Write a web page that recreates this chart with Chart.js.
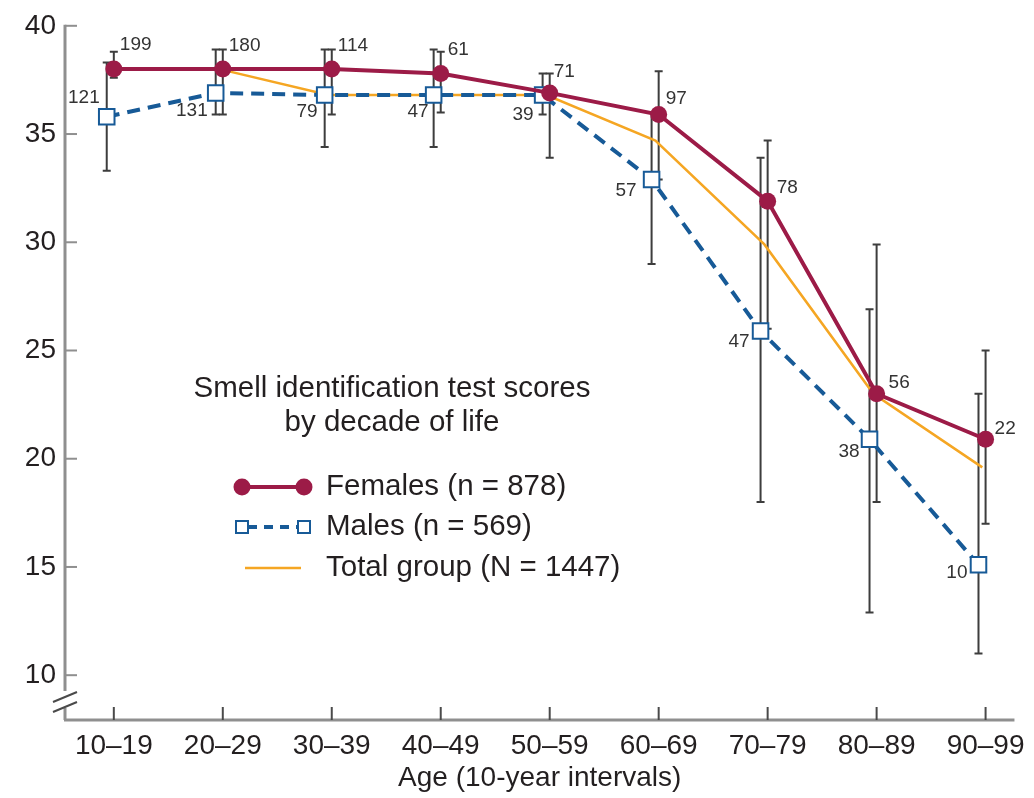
<!DOCTYPE html>
<html>
<head>
<meta charset="utf-8">
<script src="https://cdn.jsdelivr.net/npm/chart.js@4.4.0/dist/chart.umd.min.js"></script>
<style>
  html, body { margin: 0; padding: 0; background: #fff; }
  canvas { display: block; }
</style>
</head>
<body>
<canvas id="chart" width="1034" height="798"></canvas>
<script>
// --- data ---
const ageGroups = ['10–19', '20–29', '30–39', '40–49', '50–59', '60–69', '70–79', '80–89', '90–99'];
const yTicks = [10, 15, 20, 25, 30, 35, 40];

const females = [38, 38, 38, 37.8, 36.9, 35.9, 31.9, 23.0, 20.9];
const femalesLow = [37.6, 35.9, 35.9, 36.0, 33.9, 32.9, 26.0, 18.0, 17.0];
const femalesHigh = [38.8, 38.9, 38.9, 38.8, 37.8, 37.9, 34.7, 29.9, 25.0];
const femalesN = [199, 180, 114, 61, 71, 97, 78, 56, 22];

const males = [35.8, 36.9, 36.8, 36.8, 36.8, 32.9, 25.9, 20.9, 15.1];
const malesLow = [33.3, 35.9, 34.4, 34.4, 35.9, 29.0, 18.0, 12.9, 11.0];
const malesHigh = [38.3, 38.9, 38.9, 38.9, 37.8, 36.0, 33.9, 26.9, 23.0];
const malesN = [121, 131, 79, 47, 39, 57, 47, 38, 10];

const total = [null, 38, 36.8, 36.8, 36.8, 34.7, 29.9, 23.0, 19.6];

const legendTitle = ['Smell identification test scores', 'by decade of life'];
const legendLabels = ['Females (n = 878)', 'Males (n = 569)', 'Total group (N = 1447)'];
const xTitle = 'Age (10-year intervals)';

// --- styling ---
const FEMALE = '#9c1b47';
const MALE = '#175a97';
const TOTAL = '#f5a623';
const BAR = '#3d3d3d';
const TEXT = '#231f20';
const AXIS = '#8f8f8f';
const FONT = "'Liberation Sans', Arial, Helvetica, sans-serif";
const femaleShift = 0;      // small horizontal nudge so bars don't overlap
const maleShift = -0.065;
const totalShift = -0.03;
// label nudges (px)
const femaleLabelDx = [6, 6, 6, 7, 4, 7, 9, 12, 9];
const femaleLabelDy = [-24, -23, -23, -24, -21, -16, -13, -11, -10];
const maleLabelDx = [-7, -8, -7, -5, -9, -15, -11, -10, -11];
const maleLabelDy = [-19, 18, 17, 17, 20, 11, 11, 13, 8];

const pts = (vals, shift) => vals.map((v, i) => ({ x: i + shift, y: v }));

// error bars under the lines
const errorBars = {
  id: 'errorBars',
  beforeDatasetsDraw(chart) {
    const { ctx, scales: { x, y } } = chart;
    const sets = [[femalesLow, femalesHigh, femaleShift], [malesLow, malesHigh, maleShift]];
    ctx.save();
    ctx.strokeStyle = BAR;
    ctx.lineWidth = 2;
    sets.forEach(([lo, hi, shift]) => {
      lo.forEach((l, i) => {
        const px = x.getPixelForValue(i + shift);
        const y1 = y.getPixelForValue(l), y2 = y.getPixelForValue(hi[i]);
        ctx.beginPath();
        ctx.moveTo(px, y1); ctx.lineTo(px, y2);
        ctx.moveTo(px - 4, y1); ctx.lineTo(px + 4, y1);
        ctx.moveTo(px - 4, y2); ctx.lineTo(px + 4, y2);
        ctx.stroke();
      });
    });
    ctx.restore();
  }
};

// axes drawn by hand: inward ticks and the broken y axis
const axes = {
  id: 'axes',
  afterDraw(chart) {
    const { ctx, chartArea: a, scales: { x, y } } = chart;
    ctx.save();
    ctx.lineCap = 'butt';
    // y spine with break
    ctx.strokeStyle = AXIS;
    ctx.lineWidth = 3;
    ctx.beginPath();
    ctx.moveTo(a.left, a.top - 1); ctx.lineTo(a.left, a.bottom - 29);
    ctx.moveTo(a.left, a.bottom - 12); ctx.lineTo(a.left, a.bottom);
    ctx.stroke();
    ctx.strokeStyle = '#4a4a4a';
    ctx.lineWidth = 2;
    ctx.beginPath();
    ctx.moveTo(a.left - 12, a.bottom - 18); ctx.lineTo(a.left + 12, a.bottom - 28);
    ctx.moveTo(a.left - 12, a.bottom - 8); ctx.lineTo(a.left + 12, a.bottom - 18);
    ctx.stroke();
    // y ticks
    ctx.strokeStyle = AXIS;
    ctx.lineWidth = 2;
    yTicks.forEach(v => {
      const py = y.getPixelForValue(v);
      ctx.beginPath(); ctx.moveTo(a.left, py); ctx.lineTo(a.left + 12, py); ctx.stroke();
    });
    // x axis line
    ctx.strokeStyle = AXIS;
    ctx.lineWidth = 3;
    ctx.beginPath(); ctx.moveTo(a.left - 1, a.bottom); ctx.lineTo(a.right, a.bottom); ctx.stroke();
    // x ticks
    ctx.strokeStyle = '#4a4a4a';
    ctx.lineWidth = 2;
    ageGroups.forEach((_, i) => {
      const px = x.getPixelForValue(i);
      ctx.beginPath(); ctx.moveTo(px, a.bottom); ctx.lineTo(px, a.bottom - 13); ctx.stroke();
    });
    ctx.restore();
  }
};

// n labels next to each point
const countLabels = {
  id: 'countLabels',
  afterDatasetsDraw(chart) {
    const { ctx, scales: { x, y } } = chart;
    ctx.save();
    ctx.font = '19px ' + FONT;
    ctx.fillStyle = '#333';
    ctx.textBaseline = 'middle';
    ctx.textAlign = 'left';
    femalesN.forEach((n, i) => {
      ctx.fillText(n, x.getPixelForValue(i + femaleShift) + femaleLabelDx[i], y.getPixelForValue(females[i]) + femaleLabelDy[i]);
    });
    ctx.textAlign = 'right';
    malesN.forEach((n, i) => {
      ctx.fillText(n, x.getPixelForValue(i + maleShift) + maleLabelDx[i], y.getPixelForValue(males[i]) + maleLabelDy[i]);
    });
    ctx.restore();
  }
};

// legend block inside the plot
const insideLegend = {
  id: 'insideLegend',
  afterDraw(chart) {
    const { ctx, chartArea: a } = chart;
    const cx = a.left + 327;
    ctx.save();
    ctx.fillStyle = TEXT;
    ctx.font = '29.5px ' + FONT;
    ctx.textAlign = 'center';
    ctx.textBaseline = 'middle';
    ctx.fillText(legendTitle[0], cx, 389);
    ctx.fillText(legendTitle[1], cx, 423);

    const x0 = a.left + 177, x1 = a.left + 239, tx = a.left + 261;
    const rows = [487, 527, 568];
    // females
    ctx.strokeStyle = FEMALE; ctx.lineWidth = 4;
    ctx.beginPath(); ctx.moveTo(x0, rows[0]); ctx.lineTo(x1, rows[0]); ctx.stroke();
    ctx.fillStyle = FEMALE;
    [x0, x1].forEach(px => { ctx.beginPath(); ctx.arc(px, rows[0], 8.5, 0, Math.PI * 2); ctx.fill(); });
    // males
    ctx.strokeStyle = MALE; ctx.lineWidth = 4;
    ctx.setLineDash([9, 7]);
    ctx.beginPath(); ctx.moveTo(x0 + 6, rows[1]); ctx.lineTo(x1 - 6, rows[1]); ctx.stroke();
    ctx.setLineDash([]);
    ctx.lineWidth = 2; ctx.fillStyle = '#fff';
    [x0, x1].forEach(px => { ctx.fillRect(px - 6, rows[1] - 6, 12, 12); ctx.strokeRect(px - 6, rows[1] - 6, 12, 12); });
    // total
    ctx.strokeStyle = TOTAL; ctx.lineWidth = 2.5;
    ctx.beginPath(); ctx.moveTo(x0 + 3, rows[2]); ctx.lineTo(x1 - 3, rows[2]); ctx.stroke();

    ctx.fillStyle = TEXT;
    ctx.textAlign = 'left';
    legendLabels.forEach((t, i) => ctx.fillText(t, tx, rows[i]));
    ctx.restore();
  }
};

new Chart(document.getElementById('chart'), {
  type: 'line',
  data: {
    datasets: [
      {
        label: legendLabels[0],
        data: pts(females, femaleShift),
        borderColor: FEMALE,
        backgroundColor: FEMALE,
        borderWidth: 4,
        pointRadius: 8.5,
        pointBorderWidth: 0,
        pointHoverRadius: 8.5,
        order: 0
      },
      {
        label: legendLabels[1],
        data: pts(males, maleShift),
        borderColor: MALE,
        backgroundColor: '#fff',
        borderWidth: 4,
        borderDash: [13, 8],
        pointStyle: 'rect',
        pointRadius: 11,
        pointBorderWidth: 2,
        pointBorderColor: MALE,
        pointBackgroundColor: '#fff',
        order: 1
      },
      {
        label: legendLabels[2],
        data: pts(total, totalShift),
        borderColor: TOTAL,
        borderWidth: 2.5,
        pointRadius: 0,
        spanGaps: false,
        order: 2
      }
    ]
  },
  options: {
    responsive: false,
    devicePixelRatio: 1,
    animation: false,
    layout: { padding: { top: 22, right: 16, bottom: 0, left: 0 } },
    plugins: { legend: { display: false }, tooltip: { enabled: false } },
    scales: {
      x: {
        type: 'linear',
        min: -0.448,
        max: 8.265,
        afterBuildTicks: s => { s.ticks = ageGroups.map((_, i) => ({ value: i })); },
        afterFit: s => { s.height = 78; },
        grid: { display: false, drawTicks: false },
        border: { display: false },
        ticks: {
          autoSkip: false,
          maxRotation: 0,
          padding: 9,
          color: TEXT,
          font: { family: FONT, size: 28 },
          callback: v => ageGroups[v]
        },
        title: {
          display: true,
          text: xTitle,
          color: TEXT,
          font: { family: FONT, size: 28 },
          padding: { top: 0, bottom: 3 }
        }
      },
      y: {
        min: 7.93,
        max: 40,
        afterBuildTicks: s => { s.ticks = yTicks.map(v => ({ value: v })); },
        afterFit: s => { s.width = 65; },
        grid: { display: false, drawTicks: false },
        border: { display: false },
        ticks: {
          padding: 9,
          color: TEXT,
          font: { family: FONT, size: 28 }
        }
      }
    }
  },
  plugins: [errorBars, axes, countLabels, insideLegend]
});
</script>
</body>
</html>
